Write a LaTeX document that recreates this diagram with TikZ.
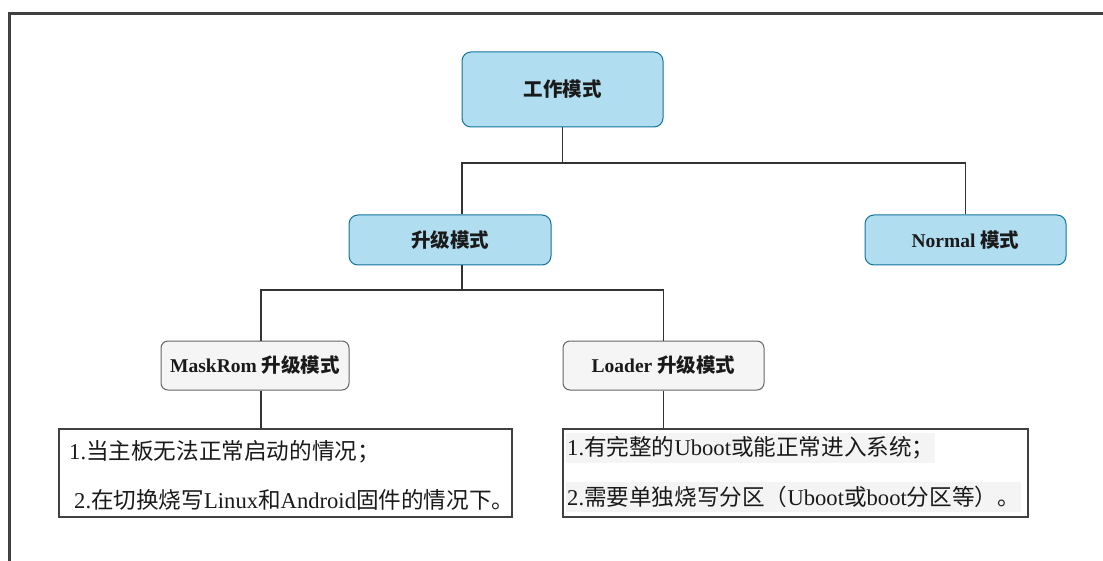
\documentclass[tikz,border=0pt]{standalone}
\usepackage{fontspec}
\setmainfont{Liberation Serif}
\newfontfamily\cjk{Noto Sans CJK SC}
\definecolor{bluefill}{HTML}{B1DDF0}
\definecolor{bluedraw}{HTML}{10739E}
\definecolor{grayfill}{HTML}{F5F5F5}
\definecolor{graydraw}{HTML}{666666}
\definecolor{framecol}{HTML}{404040}
\definecolor{linecol}{HTML}{333333}
\definecolor{txtcol}{HTML}{1A1A1A}
\definecolor{hlcol}{HTML}{F4F4F4}
\tikzset{
  bluebox/.style={draw=bluedraw, fill=bluefill, rounded corners=9pt, line width=1pt,
    text=txtcol, font=\fontsize{19.5}{23}\selectfont\bfseries, inner sep=0pt},
  graybox/.style={draw=graydraw, fill=grayfill, rounded corners=7pt, line width=1pt,
    text=txtcol, font=\fontsize{19.5}{23}\selectfont\bfseries, inner sep=0pt},
  notebox/.style={draw=framecol, line width=2.8pt, inner sep=0pt},
  notetext/.style={anchor=west, inner sep=0pt, text=txtcol, font=\fontsize{22.6}{25}\selectfont},
  hltext/.style={notetext, fill=hlcol, inner ysep=4pt, inner xsep=1pt},
  conn/.style={draw=linecol, line width=1.2pt},
}
\begin{document}
\begin{tikzpicture}[x=1pt, y=-1pt]
\useasboundingbox (0,0) rectangle (1103,561);
% outer frame
\draw[framecol, line width=3pt] (9.5,561) -- (9.5,13.5) -- (1103,13.5);

% nodes
\node[bluebox, minimum width=201pt, minimum height=75pt] (work) at (562.5,89.5) {\cjk 工作模式};
\node[bluebox, minimum width=202pt, minimum height=50pt] (up) at (450,240) {\cjk 升级模式};
\node[bluebox, minimum width=201pt, minimum height=50pt] (normal) at (965.5,240) {Normal {\cjk 模式}};
\node[graybox, minimum width=188pt, minimum height=49pt] (mask) at (255,365.5) {MaskRom {\cjk 升级模式}};
\node[graybox, minimum width=201pt, minimum height=49pt] (loader) at (663.5,365.5) {Loader {\cjk 升级模式}};
\node[notebox, minimum width=453pt, minimum height=88pt] (lbox) at (285.5,473) {};
\node[notebox, minimum width=465pt, minimum height=88pt] (rbox) at (795.5,473) {};

% texts in note boxes
\node[notetext] (l1) at (69,452) {1.{\cjk 当主板无法正常启动的情况；}};
\node[notetext] (l2) at (74,500) {2.{\cjk 在切换烧写}Linux{\cjk 和}Android{\cjk 固件的情况下。}};
\node[hltext] (r1) at (566,448) {1.{\cjk 有完整的}Uboot{\cjk 或能正常进入系统；}};
\node[hltext] (r2) at (566,497) {2.{\cjk 需要单独烧写分区（}Uboot{\cjk 或}boot{\cjk 分区等）。}};

% junctions
\coordinate (t1) at (462,163);
\coordinate (t2) at (965.5,163);
\coordinate (t3) at (261,290);
\coordinate (t4) at (663.5,290);

% connectors
\draw[conn] (work.south) -- (work.south |- t1);
\draw[conn] ([xshift=12pt]up.north) -- (t1) -- (t2) -- (normal.north);
\draw[conn] ([xshift=12pt]up.south) -- ([xshift=12pt]up.south |- t3);
\draw[conn] ([xshift=6pt]mask.north) -- (t3) -- (t4) -- (loader.north);
\draw[conn] ([xshift=6pt]mask.south) -- ([xshift=6pt]mask.south |- lbox.north);
\draw[conn] (loader.south) -- (loader.south |- rbox.north);
\end{tikzpicture}
\end{document}
